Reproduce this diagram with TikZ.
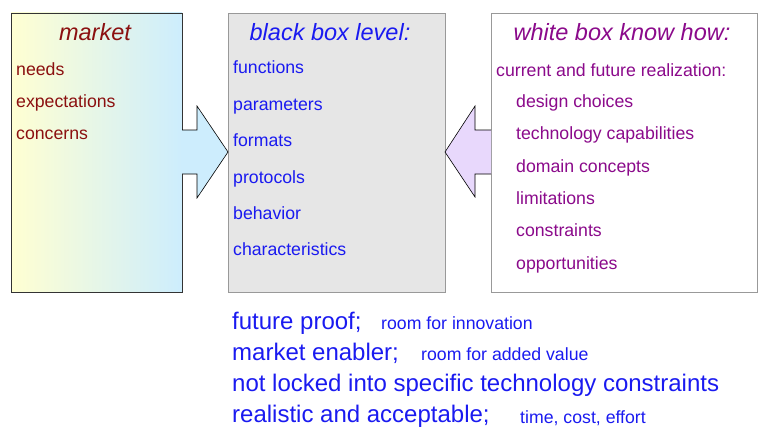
\documentclass[tikz,border=0pt]{standalone}
\usepackage{fontspec}
\setmainfont{Liberation Sans}
\definecolor{mred}{HTML}{8B1010}
\definecolor{bbblue}{HTML}{1A1AF0}
\definecolor{wbpurple}{HTML}{8B0A8B}
\definecolor{bbgray}{HTML}{E6E6E6}
\definecolor{gborder}{HTML}{999999}
\definecolor{lyellow}{HTML}{FFFFD2}
\definecolor{lblue}{HTML}{CDEDFD}
\definecolor{lpurple}{HTML}{E8D8FC}
\tikzset{
  titlet/.style={font=\fontsize{23.5}{26}\selectfont\itshape, text height=0.72em, text depth=0.21em, inner sep=0pt, yshift=-5pt},
  itemt/.style={anchor=west, inner sep=0pt, text height=0.72em, text depth=0.21em, font=\fontsize{17.7}{20}\selectfont, yshift=-4pt},
  bigt/.style={anchor=west, inner sep=0pt, text height=0.72em, text depth=0.21em, font=\fontsize{24}{28}\selectfont, text=bbblue, yshift=-5pt},
  smallt/.style={anchor=west, inner sep=0pt, text height=0.72em, text depth=0.21em, font=\fontsize{17.7}{20}\selectfont, text=bbblue, yshift=-4pt},
  blockarrow/.style={draw=black, line width=0.6pt, line join=miter},
}
\begin{document}
\begin{tikzpicture}[x=1pt,y=-1pt]
\useasboundingbox (0,0) rectangle (758,428);
% boxes
\shade[left color=lyellow, right color=lblue] (11,13) rectangle (182,292);
\draw[draw=black!80, line width=0.8pt] (11,13) rectangle (182,292);
\node[draw=gborder, fill=bbgray, line width=0.8pt, minimum width=217pt, minimum height=279pt, inner sep=0pt, anchor=north west] (bb) at (228,13) {};
\node[draw=gborder, fill=white, line width=0.8pt, minimum width=266pt, minimum height=279pt, inner sep=0pt, anchor=north west] (wb) at (491,13) {};
% arrows
\draw[blockarrow, fill=lblue] (182,130) -- (197,130) -- (197,106) -- (228,152) -- (197,198) -- (197,174) -- (182,174);
\draw[blockarrow, fill=lpurple] (491,130) -- (475,130) -- (475,106) -- (445,152) -- (475,197) -- (475,174) -- (491,174);
% market
\node[titlet, text=mred] (mt) at (95,33) {market};
\node[itemt, text=mred] (m1) at (16,69) {needs};
\node[itemt, text=mred] (m2) at (16,101) {expectations};
\node[itemt, text=mred] (m3) at (16,133) {concerns};
% black box
\node[titlet, text=bbblue] (bt) at (330,33) {black box level:};
\node[itemt, text=bbblue] (b1) at (233,67) {functions};
\node[itemt, text=bbblue] (b2) at (233,104) {parameters};
\node[itemt, text=bbblue] (b3) at (233,140) {formats};
\node[itemt, text=bbblue] (b4) at (233,177) {protocols};
\node[itemt, text=bbblue] (b5) at (233,213) {behavior};
\node[itemt, text=bbblue] (b6) at (233,249) {characteristics};
% white box
\node[titlet, text=wbpurple] (wt) at (622,33) {white box know how:};
\node[itemt, text=wbpurple] (w0) at (496,70) {current and future realization:};
\node[itemt, text=wbpurple] (w1) at (516,101) {design choices};
\node[itemt, text=wbpurple] (w2) at (516,133) {technology capabilities};
\node[itemt, text=wbpurple] (w3) at (516,166) {domain concepts};
\node[itemt, text=wbpurple] (w4) at (516,198) {limitations};
\node[itemt, text=wbpurple] (w5) at (516,230) {constraints};
\node[itemt, text=wbpurple] (w6) at (516,263) {opportunities};
% bottom
\node[bigt] (l1) at (232,322) {future proof;};
\node[smallt] (s1) at (381,323) {room for innovation};
\node[bigt] (l2) at (232,353) {market enabler;};
\node[smallt] (s2) at (421,354) {room for added value};
\node[bigt] (l3) at (232,384) {not locked into specific technology constraints};
\node[bigt] (l4) at (232,415) {realistic and acceptable;};
\node[smallt] (s4) at (520,417) {time, cost, effort};
\end{tikzpicture}
\end{document}
